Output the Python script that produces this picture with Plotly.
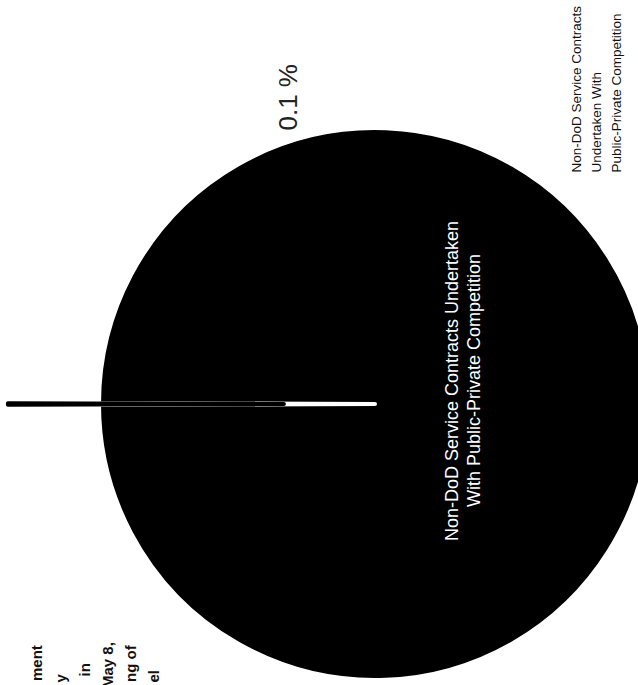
import plotly.graph_objects as go

# ---- data ----
slice_names = ["Non-DoD Service Contracts Undertaken With Public-Private Competition (0.1 %)",
               "Non-DoD Service Contracts Undertaken With Public-Private Competition"]
slice_values = [0.1, 99.9]
pct_label = "0.1 %"
outer_label_lines = ["Non-DoD Service Contracts", "Undertaken With", "Public-Private Competition"]
inner_label_lines = ["Non-DoD Service Contracts Undertaken", "With Public-Private Competition"]
cut_note_lines = ["ment", "y", "in", "May 8,", "ng of", "el"]

# ---- geometry (pixels of the 638x685 view) ----
W, H = 760, 790
cx, cy, r = 375, 404, 276
pull = 0.33
R = r * (1 + pull)
FONT = "Liberation Sans, Arial, sans-serif"


def px(x):
    return x / W


def py(y):
    return 1 - y / H


fig = go.Figure(go.Pie(
    labels=slice_names[::-1],
    values=slice_values[::-1],
    sort=False,
    direction="clockwise",
    rotation=-90 + 0.18,
    pull=[0, pull],
    marker=dict(colors=["#000000", "#000000"],
                line=dict(color=["#ffffff", "#000000"], width=[4, 4])),
    textinfo="none",
    hoverinfo="skip",
    showlegend=False,
    domain=dict(x=[(cx - R) / W, (cx + R) / W], y=[1 - (cy + R) / H, 1 - (cy - R) / H]),
))

ann = []
ann.append(dict(text=pct_label, x=px(288), y=py(62), xref="paper", yref="paper",
                showarrow=False, textangle=-90,
                font=dict(size=26, color="#222222", family=FONT)))
for t, xx in zip(outer_label_lines, [576, 596, 616]):
    ann.append(dict(text=t, x=px(xx), y=py(175), xref="paper", yref="paper",
                    xanchor="center", yanchor="bottom", showarrow=False, textangle=-90,
                    font=dict(size=13.5, color="#111111", family=FONT)))
for t, xx in zip(inner_label_lines, [452, 474]):
    ann.append(dict(text=t, x=px(xx), y=py(381), xref="paper", yref="paper",
                    xanchor="center", yanchor="middle", showarrow=False, textangle=-90,
                    font=dict(size=18, color="#ffffff", family=FONT)))
note_x = [36, 60, 84, 107, 130, 153]
note_top = [643, 672, 662, 640, 642, 668]
for t, xx, yt in zip(cut_note_lines, note_x, note_top):
    ann.append(dict(text="<b>" + t + "</b>", x=px(xx), y=py(yt), xref="paper", yref="paper",
                    xanchor="center", yanchor="top", showarrow=False, textangle=-90,
                    font=dict(size=15, color="#111111", family=FONT)))

fig.update_layout(width=W, height=H, margin=dict(l=0, r=0, t=0, b=0),
                  paper_bgcolor="white", plot_bgcolor="white", annotations=ann)

fig.write_html(
    "out.html", config={"displayModeBar": False},
    post_script=("document.body.style.margin='0';"
                 "document.body.style.overflow='hidden';"
                 "document.documentElement.style.overflow='hidden';"))
